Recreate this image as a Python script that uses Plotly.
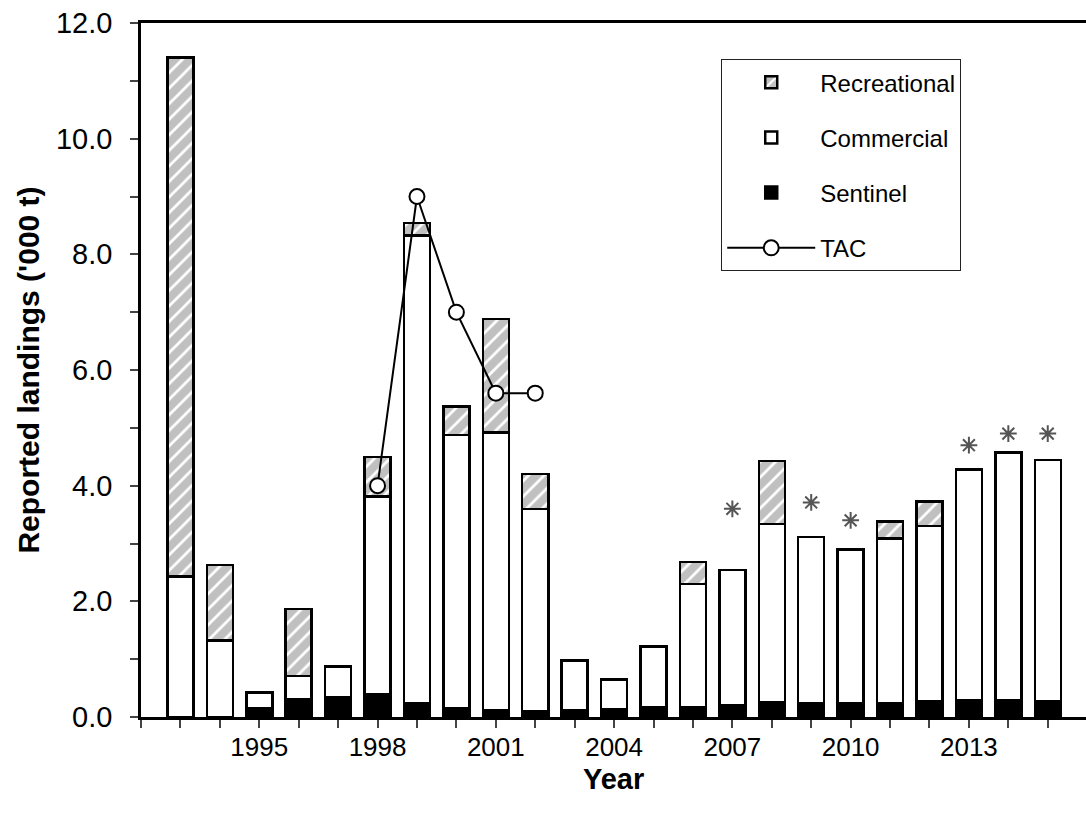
import plotly.graph_objects as go

years = list(range(1993, 2016))
sentinel = [None, None, 0.15, 0.31, 0.35, 0.40, 0.24, 0.16, 0.12, 0.10, 0.11, 0.13, 0.17,
            0.17, 0.20, 0.26, 0.24, 0.24, 0.24, 0.28, 0.29, 0.29, 0.28]
commercial = [2.43, 1.32, 0.27, 0.40, 0.52, 3.41, 8.09, 4.72, 4.80, 3.50, 0.87, 0.52, 1.05,
              2.13, 2.34, 3.08, 2.87, 2.66, 2.85, 3.02, 3.99, 4.28, 4.16]
recreational = [8.97, 1.31, None, 1.16, None, 0.69, 0.21, 0.49, 1.96, 0.60, None, None, None,
                0.38, None, 1.09, None, None, 0.29, 0.43, None, None, None]
tac_years = [1998, 1999, 2000, 2001, 2002]
tac = [4.0, 9.0, 7.0, 5.6, 5.6]
star_years = [2007, 2009, 2010, 2013, 2014, 2015]
star_vals = [3.60, 3.71, 3.40, 4.70, 4.90, 4.90]
tick_years = list(range(1992, 2016))
label_years = [1995, 1998, 2001, 2004, 2007, 2010, 2013]

BAR_W = 0.66
LINE = dict(color="black", width=2.5)
FONT = "Liberation Sans, Arial, sans-serif"

fig = go.Figure()
fig.add_trace(go.Bar(x=years, y=sentinel, name="Sentinel", width=BAR_W,
                     marker=dict(color="black", line=LINE), legendrank=3,
                     legendgroup="s"))
fig.add_trace(go.Bar(x=years, y=commercial, name="Commercial", width=BAR_W,
                     marker=dict(color="white", line=LINE), legendrank=2,
                     legendgroup="c"))
fig.add_trace(go.Bar(x=years, y=recreational, name="Recreational", width=BAR_W,
                     marker=dict(color="#c0c0c0", line=LINE,
                                 pattern=dict(shape="/", fgcolor="white", bgcolor="#c0c0c0",
                                              size=11, solidity=0.25, fillmode="replace")),
                     legendrank=1, legendgroup="r"))
fig.add_trace(go.Scatter(x=tac_years, y=tac, name="TAC", mode="lines+markers",
                         line=dict(color="black", width=2),
                         marker=dict(symbol="circle", size=15, color="white",
                                     line=dict(color="black", width=2)),
                         legendrank=4, legendgroup="t"))
fig.add_trace(go.Scatter(x=star_years, y=star_vals, mode="markers", showlegend=False,
                         marker=dict(symbol="asterisk-open", size=14, color="#555555",
                                     line=dict(color="#555555", width=2))))

fig.update_layout(
    width=1086, height=813, barmode="stack",
    plot_bgcolor="white", paper_bgcolor="white",
    margin=dict(l=141, r=0, t=23, b=96, autoexpand=False),
    font=dict(family=FONT, color="black"),
    showlegend=True,
    legend=dict(x=0.614, y=0.948, xanchor="left", yanchor="top",
                bordercolor="#222222", borderwidth=1, bgcolor="white",
                font=dict(size=24), tracegroupgap=21, traceorder="grouped",
                itemwidth=88),
    bargap=0.3,
    annotations=[dict(text="<b>Year</b>", x=0.5, y=-0.09, xref="paper", yref="paper",
                      xanchor="center", yanchor="middle", showarrow=False,
                      font=dict(size=29))],
)
fig.update_xaxes(
    range=[1992, 2015.97], tickmode="array", tickvals=tick_years,
    ticktext=[str(y) if y in label_years else "" for y in tick_years],
    ticks="outside", ticklen=8, tickwidth=1.5, tickcolor="#444444", ticklabelstandoff=-3,
    showline=True, linecolor="black", linewidth=2.5, mirror=True,
    showgrid=False, zeroline=False, tickfont=dict(size=26), automargin=False,
)
fig.update_yaxes(
    range=[0, 12], dtick=2, tickformat=".1f", ticks="outside", ticklen=8,
    tickwidth=1.5, tickcolor="#444444", ticklabelstandoff=12,
    minor=dict(dtick=1, ticks="outside", ticklen=8, tickwidth=1.5, tickcolor="#444444"),
    showline=True, linecolor="black", linewidth=2.5, automargin=False,
    showgrid=False, zeroline=False, tickfont=dict(size=29),
    title=dict(text="<b>Reported landings ('000 t)</b>", font=dict(size=30), standoff=8),
)

fig.write_html("out.html", config={"displayModeBar": False},
               post_script="document.body.style.margin='0';")
